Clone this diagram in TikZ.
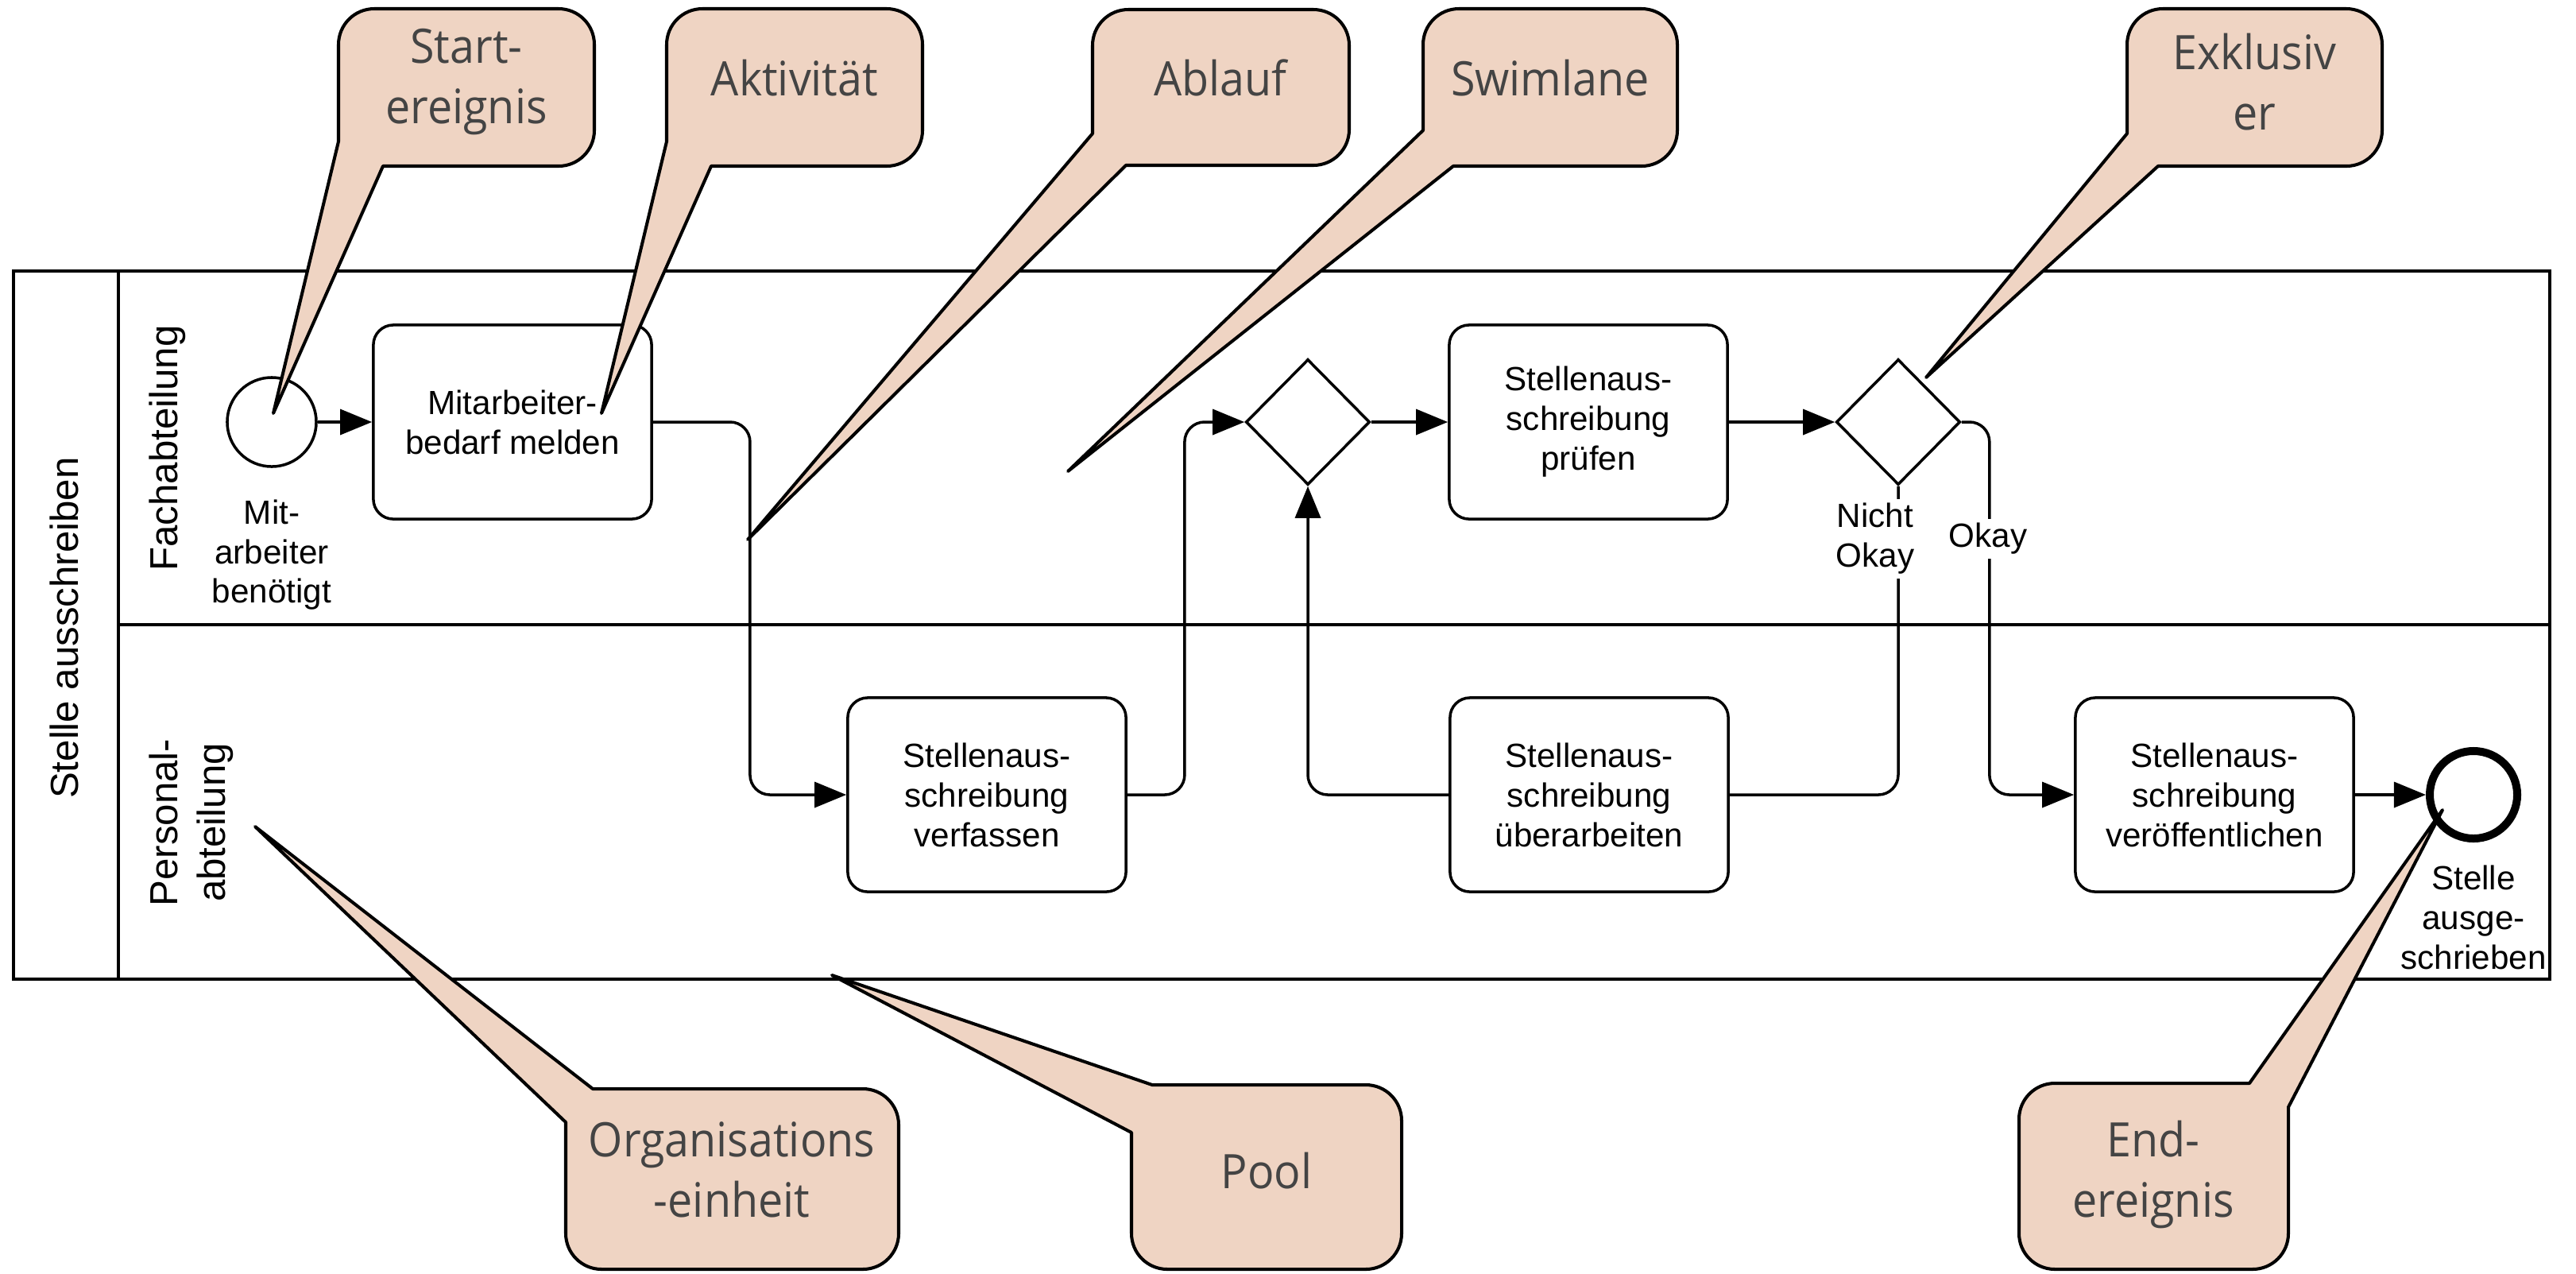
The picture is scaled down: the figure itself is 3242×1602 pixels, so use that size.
\documentclass[tikz,border=0pt]{standalone}
\usepackage{fontspec}
\setmainfont{Liberation Sans}
\newfontfamily\calloutfont[FakeStretch=0.93]{Open Sans}
\usetikzlibrary{arrows.meta, shapes.geometric, positioning}
\definecolor{calloutfill}{RGB}{239,212,195}
\definecolor{callouttext}{RGB}{68,68,68}

\tikzset{
  task/.style={draw, line width=1pt, rounded corners=0.25cm, fill=white,
    minimum width=3.5cm, minimum height=2.44cm, align=center, inner sep=0pt,
    font=\fontsize{12}{14.2}\selectfont},
  gateway/.style={draw, diamond, line width=1pt, fill=white,
    minimum width=1.56cm, minimum height=1.58cm, inner sep=0pt},
  startevent/.style={draw, circle, line width=1pt, fill=white, minimum size=1.12cm, inner sep=0pt},
  endevent/.style={draw, circle, line width=1mm, fill=white, minimum size=1.1cm, inner sep=0pt},
  flow/.style={line width=1pt, rounded corners=0.25cm, -{Triangle[length=4mm, width=3.2mm]}},
  plainflow/.style={line width=1pt, rounded corners=0.25cm},
  eventlabel/.style={align=center, inner sep=0pt, font=\fontsize{12}{14.2}\selectfont},
  condlabel/.style={align=center, fill=white, inner sep=1.5pt, font=\fontsize{12}{14.2}\selectfont},
  lanelabel/.style={rotate=90, align=center, inner sep=0pt, font=\fontsize{14}{17}\selectfont},
  callout/.style={draw=black, fill=calloutfill, line width=1.15pt, line join=round},
  callouttxt/.style={align=center, inner sep=0pt, text=callouttext,
    font=\calloutfont\fontsize{17}{21.7}\selectfont},
}

\begin{document}
\begin{tikzpicture}[x=0.01cm, y=-0.01cm]
  \useasboundingbox (0,0) rectangle (3242,1602);
  \fill[white] (0,0) rectangle (3242,1602);

  % pool and lanes
  \draw[line width=1pt] (17,341) rectangle (3209,1232);
  \draw[line width=1pt] (149,341) -- (149,1232);
  \draw[line width=1pt] (149,786) -- (3209,786);
  \node[lanelabel] (poollabel) at (81,790) {Stelle ausschreiben};
  \node[lanelabel] (fachlabel) at (211,564) {Fachabteilung};
  \node[lanelabel] (personallabel) at (241,1035) {Personal-\\abteilung};

  % process
  \node[startevent] (start) at (342,531) {};
  \node[task] (melden) at (645,531) {Mitarbeiter-\\bedarf melden};
  \node[task] (verfassen) at (1242,1000) {Stellenaus-\\schreibung\\verfassen};
  \node[gateway] (gwmerge) at (1646,531) {};
  \node[task] (pruefen) at (1999,531) {Stellenaus-\\schreibung\\prüfen};
  \node[gateway] (gwcheck) at (2389,531) {};
  \node[task] (ueberarbeiten) at (2000,1000) {Stellenaus-\\schreibung\\überarbeiten};
  \node[task] (veroeffentlichen) at (2787,1000) {Stellenaus-\\schreibung\\veröffentlichen};
  \node[endevent] (end) at (3113,1000) {};
  \node[eventlabel, below=0.39cm of start] (startlabel) {Mit-\\arbeiter\\benötigt};
  \node[eventlabel, below=0.28cm of end] (endlabel) {Stelle\\ausge-\\schrieben};

  % sequence flows
  \draw[flow] (start) -- (melden);
  \draw[flow] (melden.east) -- ++(1.22cm,0) |- (verfassen.west);
  \draw[flow] (verfassen.east) -- ++(0.72cm,0) |- (gwmerge.west);
  \draw[flow] (gwmerge) -- (pruefen);
  \draw[flow] (pruefen) -- (gwcheck);
  \draw[plainflow] (gwcheck.south) |- (ueberarbeiten.east);
  \draw[flow] (ueberarbeiten.west) -| (gwmerge.south);
  \draw[flow] (gwcheck.east) -- ++(0.35cm,0) |- (veroeffentlichen.west);
  \draw[flow] (veroeffentlichen) -- (end);
  \node[condlabel] (nichtokay) at (2360,678) {Nicht\\Okay};
  \node[condlabel] (okay) at (2502,678) {Okay};

  % callouts
  \filldraw[callout] (482,209) [rounded corners=0.45cm] -- (748,209) -- (748,11) -- (426,11) [sharp corners] -- (426,178) -- (344,520) -- cycle;
  \node[callouttxt] (cstart) at (587,103) {Start-\\ereignis};
  \filldraw[callout] (895,209) [rounded corners=0.45cm] -- (1161,209) -- (1161,11) -- (839,11) [sharp corners] -- (839,178) -- (757,520) -- cycle;
  \node[callouttxt] (caktiv) at (1000,98) {Aktivität};
  \filldraw[callout] (1417,208) [rounded corners=0.45cm] -- (1698,208) -- (1698,12) -- (1375,12) [sharp corners] -- (1375,168) -- (941,679) -- cycle;
  \node[callouttxt] (cablauf) at (1536,98) {Ablauf};
  \filldraw[callout] (1829,209) [rounded corners=0.45cm] -- (2111,209) -- (2111,11) -- (1791,11) [sharp corners] -- (1791,164) -- (1344,593) -- cycle;
  \node[callouttxt] (cswim) at (1951,98) {Swimlane};
  \filldraw[callout] (2716,209) [rounded corners=0.45cm] -- (2998,209) -- (2998,11) -- (2677,11) [sharp corners] -- (2677,168) -- (2424,475) -- cycle;
  \node[callouttxt] (cexkl) at (2837,103) {Exklusiv\\er};
  \filldraw[callout] (712,1412) [rounded corners=0.45cm] -- (712,1597) -- (1131,1597) -- (1131,1370) [sharp corners] -- (746,1370) -- (321,1040) -- cycle;
  \node[callouttxt] (corga) at (921,1472) {Organisations\\-einheit};
  \filldraw[callout] (1424,1425) [rounded corners=0.45cm] -- (1424,1597) -- (1764,1597) -- (1764,1365) [sharp corners] -- (1450,1365) -- (1047,1227) -- cycle;
  \node[callouttxt] (cpool) at (1594,1473) {Pool};
  \filldraw[callout] (2831,1363) [rounded corners=0.45cm] -- (2541,1363) -- (2541,1597) -- (2880,1597) [sharp corners] -- (2880,1393) -- (3074,1019) -- cycle;
  \node[callouttxt] (cend) at (2710,1478) {End-\\ereignis};
\end{tikzpicture}
\end{document}
